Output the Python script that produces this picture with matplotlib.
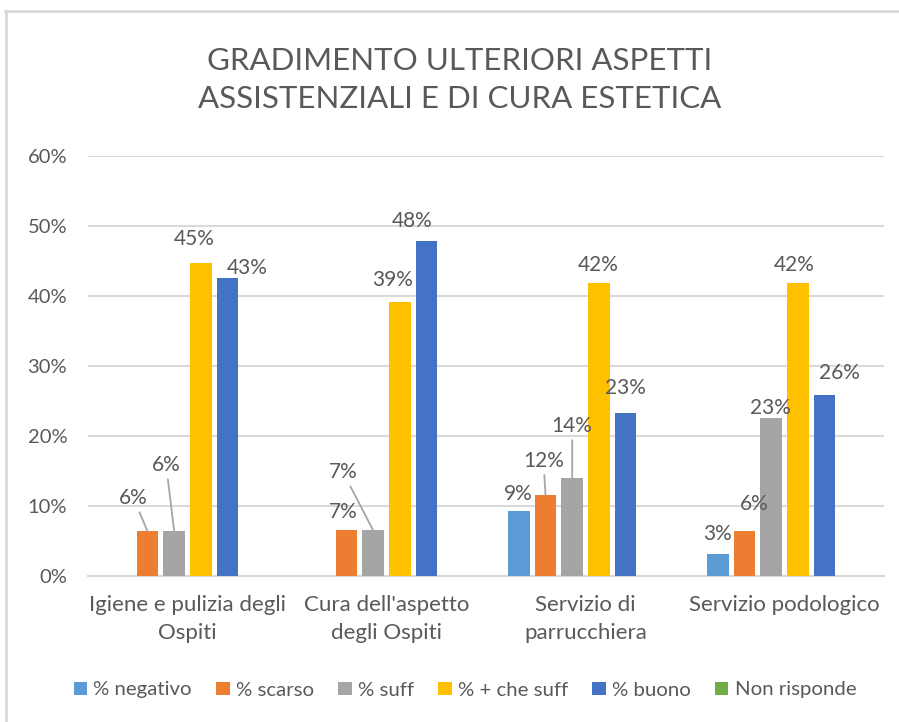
import matplotlib.pyplot as plt
from matplotlib.lines import Line2D
from matplotlib.patches import Patch
import numpy as np

plt.rcParams['font.family'] = ['Lato', 'DejaVu Sans']

categories = ['Igiene e pulizia degli\nOspiti', "Cura dell'aspetto\ndegli Ospiti",
              'Servizio di\nparrucchiera', 'Servizio podologico']
series = ['% negativo', '% scarso', '% suff', '% + che suff', '% buono', 'Non risponde']

negativo = [0.0, 0.0, 0.093, 0.032]
scarso = [0.064, 0.0652, 0.116, 0.0645]
suff = [0.064, 0.0652, 0.140, 0.226]
piu_che_suff = [0.447, 0.391, 0.419, 0.419]
buono = [0.426, 0.478, 0.233, 0.258]
non_risponde = [0.0, 0.0, 0.0, 0.0]

colors = ['#5B9BD5', '#ED7D31', '#A5A5A5', '#FFC000', '#4472C4', '#70AD47']
txt = '#595959'
grid = '#D9D9D9'

# label offsets in pixels (dx, dy) from bar top, and whether a leader line is drawn
label_pos = {
    (0, 1): (-14, 33, True), (0, 2): (-8, 66, True), (0, 3): (-7, 24, False), (0, 4): (20, 10, False),
    (1, 1): (-3, 18, False), (1, 2): (-30, 58, True), (1, 3): (-7, 22, False), (1, 4): (-14, 20, False),
    (2, 0): (-1, 17, False), (2, 1): (-2, 34, True), (2, 2): (0, 52, True), (2, 3): (-1, 18, False), (2, 4): (0, 25, False),
    (3, 0): (0, 20, False), (3, 1): (10, 27, False), (3, 2): (-1, 10, False), (3, 3): (-4, 18, False), (3, 4): (15, 22, False),
}

data = [negativo, scarso, suff, piu_che_suff, buono, non_risponde]

fig = plt.figure(figsize=(8.99, 7.22), dpi=100)
ax = fig.add_axes([88/899, 146/722, 796/899, 420/722])

x = np.arange(len(categories))
slot = 0.134
width = 0.108
for j, vals in enumerate(data):
    pos = x + (j - 2.5) * slot
    ax.bar(pos, vals, width, color=colors[j], zorder=3)
    for i, v in enumerate(vals):
        if v == 0:
            continue
        dx, dy, leader = label_pos[(i, j)]
        ap = None
        if leader:
            ap = dict(arrowstyle='-', color='#A6A6A6', lw=1.3, shrinkA=1, shrinkB=0)
        ax.annotate('{:.0%}'.format(v), xy=(pos[i], v), xytext=(dx, dy),
                    textcoords='offset pixels', ha='center', va='center',
                    fontsize=15, color=txt, arrowprops=ap, zorder=4)

ax.set_xlim(-0.5, 3.5)
ax.set_ylim(0, 0.6)
ax.set_yticks(np.arange(0, 0.61, 0.1))
ax.set_yticklabels(['{:.0%}'.format(t) for t in np.arange(0, 0.61, 0.1)], fontsize=14.5)
ax.set_xticks(x)
ax.set_xticklabels(categories, linespacing=1.45, fontsize=16)
ax.tick_params(axis='both', length=0, labelcolor=txt)
ax.tick_params(axis='y', pad=15)
ax.tick_params(axis='x', pad=14)
ax.grid(axis='y', color=grid, lw=1.5, zorder=0)
for s in ['top', 'right', 'left']:
    ax.spines[s].set_visible(False)
ax.spines['bottom'].set_color(grid)
ax.spines['bottom'].set_linewidth(1.5)

fig.text(460/899, 1 - 80/722, 'GRADIMENTO ULTERIORI ASPETTI\nASSISTENZIALI E DI CURA ESTETICA',
         ha='center', va='center', fontsize=22.5, color=txt, linespacing=1.45)

handles = [Patch(facecolor=c) for c in colors]
fig.legend(handles, series, loc='center', bbox_to_anchor=(465/899, 1 - 690/722), ncol=6,
           frameon=False, fontsize=14.7, labelcolor=txt, handlelength=0.65, handleheight=0.65,
           handletextpad=0.3, columnspacing=1.2)

# chart border
fig.add_artist(Line2D([5/899, 1], [1 - 11/722] * 2, color=grid, lw=2, transform=fig.transFigure))
fig.add_artist(Line2D([6/899] * 2, [0, 1 - 11/722], color=grid, lw=2, transform=fig.transFigure))

fig.savefig('out.png', dpi=100)
